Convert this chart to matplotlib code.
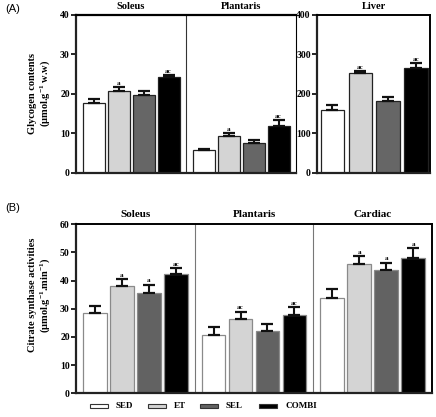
import matplotlib
matplotlib.use("Agg")
import matplotlib.pyplot as plt
from matplotlib.patches import Rectangle
import numpy as np

plt.rcParams['font.family'] = ['Liberation Serif', 'DejaVu Serif']
plt.rcParams['font.weight'] = 'bold'
plt.rcParams['mathtext.fontset'] = 'custom'
plt.rcParams['mathtext.rm'] = 'Liberation Serif:bold'
plt.rcParams['mathtext.it'] = 'Liberation Serif:bold'
plt.rcParams['mathtext.bf'] = 'Liberation Serif:bold'

groups = ["SED", "ET", "SEL", "COMBI"]

# Panel A: glycogen contents
glyc_soleus = [17.7, 20.8, 19.6, 24.3]
glyc_soleus_err = [1.0, 1.0, 1.0, 0.5]
glyc_soleus_lbl = ["", "a", "", "ac"]
glyc_plant = [5.8, 9.3, 7.6, 11.9]
glyc_plant_err = [0.3, 0.7, 0.6, 1.5]
glyc_plant_lbl = ["", "a", "", "ac"]
glyc_liver = [160, 252, 181, 266]
glyc_liver_err = [11, 5, 11, 12]
glyc_liver_lbl = ["", "ac", "", "ac"]

# Panel B: citrate synthase activities
cs_soleus = [28.4, 38.0, 35.5, 42.3]
cs_soleus_err = [2.7, 2.6, 3.0, 2.2]
cs_soleus_lbl = ["", "a", "a", "ac"]
cs_plant = [20.7, 26.5, 22.0, 27.9]
cs_plant_err = [2.7, 2.5, 2.7, 2.7]
cs_plant_lbl = ["", "ac", "", "ac"]
cs_card = [34.0, 45.8, 43.9, 48.1]
cs_card_err = [3.1, 2.8, 2.4, 3.4]
cs_card_lbl = ["", "a", "a", "a"]

colorsA = ["#ffffff", "#d4d4d4", "#666666", "#000000"]
colorsB = ["#ffffff", "#d4d4d4", "#626262", "#000000"]

W = 436; H = 417
fig = plt.figure(figsize=(W/100, H/100), dpi=100)

def ax_px(x0, y0, x1, y1):
    return fig.add_axes([x0/W, 1 - y1/H, (x1-x0)/W, (y1-y0)/H])

SEC = 4.4
MARG = 0.7

def draw_bars(ax, offset, vals, errs, lbls, colors, edge, width, lblfs, lbl_pad):
    x = offset + np.arange(len(vals))
    ax.bar(x, vals, width=width, color=colors, edgecolor=edge, linewidth=0.9, zorder=2)
    ax.errorbar(x, vals, yerr=[np.zeros(len(vals)), errs], fmt='none', ecolor='#111111',
                elinewidth=1.5, capsize=4.2, capthick=1.6, zorder=3)
    for xi, v, e, l in zip(x, vals, errs, lbls):
        if l:
            ax.text(xi, v + e + lbl_pad, l, ha='center', va='bottom', fontsize=lblfs,
                    fontweight='bold')

def style_ax(ax, ticks):
    ax.set_yticks(ticks)
    ax.set_yticklabels([str(t) for t in ticks], fontsize=7, fontweight='bold')
    ax.tick_params(axis='y', direction='out', length=3.5, width=1.2, pad=1)
    ax.set_xticks([])
    for s in ['left', 'bottom']:
        ax.spines[s].set_linewidth(1.6)
        ax.spines[s].set_color('#222222')

# ---------- Panel A left ----------
axA = ax_px(76, 15, 296, 172.7)
draw_bars(axA, MARG, glyc_soleus, glyc_soleus_err, glyc_soleus_lbl, colorsA, '#222222', 0.88, 5, 0.3)
draw_bars(axA, SEC + MARG, glyc_plant, glyc_plant_err, glyc_plant_lbl, colorsA, '#222222', 0.88, 5, 0.3)
axA.set_xlim(0, 2*SEC)
axA.set_ylim(0, 40)
style_ax(axA, [0, 10, 20, 30, 40])
axA.spines['top'].set_linewidth(1.6)
axA.spines['right'].set_linewidth(0.8)
axA.axvline(SEC, color='#333333', linewidth=0.8)
axA.text(SEC/2, 40.9, "Soleus", ha='center', va='bottom', fontsize=7.5, fontweight='bold')
axA.text(SEC*1.5, 40.9, "Plantaris", ha='center', va='bottom', fontsize=7.5, fontweight='bold')

# ---------- Panel A liver ----------
axL = ax_px(317, 15, 430, 172.7)
draw_bars(axL, 0.0, glyc_liver, glyc_liver_err, glyc_liver_lbl, colorsA, '#222222', 0.84, 5, 3)
axL.set_xlim(-0.55, 3.5)
axL.set_ylim(0, 400)
style_ax(axL, [0, 100, 200, 300, 400])
axL.spines['top'].set_linewidth(1.4)
axL.spines['right'].set_linewidth(1.4)
axL.text(1.475, 409, "Liver", ha='center', va='bottom', fontsize=7.5, fontweight='bold')

# ---------- Panel B ----------
axB = ax_px(76, 224.3, 432, 393.3)
draw_bars(axB, MARG, cs_soleus, cs_soleus_err, cs_soleus_lbl, colorsB, '#8a8a8a', 0.87, 5, 0.5)
draw_bars(axB, SEC + MARG, cs_plant, cs_plant_err, cs_plant_lbl, colorsB, '#8a8a8a', 0.87, 5, 0.5)
draw_bars(axB, 2*SEC + MARG, cs_card, cs_card_err, cs_card_lbl, colorsB, '#8a8a8a', 0.87, 5, 0.5)
axB.set_xlim(0, 3*SEC)
axB.set_ylim(0, 60)
style_ax(axB, [0, 10, 20, 30, 40, 50, 60])
axB.spines['top'].set_linewidth(1.4)
axB.spines['right'].set_linewidth(1.4)
axB.axvline(SEC, color='#777777', linewidth=0.8)
axB.axvline(2*SEC, color='#777777', linewidth=0.8)
for i, name in enumerate(["Soleus", "Plantaris", "Cardiac"]):
    axB.text(SEC*(i+0.5), 61.8, name, ha='center', va='bottom', fontsize=8, fontweight='bold')

# ---------- Labels ----------
fig.text(5/W, 1 - 9/H, "(A)", fontsize=8, family='Liberation Sans', fontweight='normal', va='center')
fig.text(5/W, 1 - 208/H, "(B)", fontsize=8, family='Liberation Sans', fontweight='normal', va='center')
fig.text(40/W, 1 - 93/H, "Glycogen contents\n(µmol.g$^{-1}$ w.w)", rotation=90,
         ha='center', va='center', fontsize=7.5, fontweight='bold', linespacing=1.2)
fig.text(40/W, 1 - 295/H, "Citrate synthase activities\n(µmol.g$^{-1}$.min$^{-1}$)", rotation=90,
         ha='center', va='center', fontsize=7.5, fontweight='bold', linespacing=1.2)

# ---------- Legend ----------
legend_x = [90, 148, 200, 259]
ly = 406
for gx, name, c in zip(legend_x, groups, colorsB):
    fig.patches.append(Rectangle((gx/W, 1 - (ly+2)/H), 18/W, 4/H, transform=fig.transFigure,
                                 facecolor=c, edgecolor='#333333', linewidth=0.8))
    fig.text((gx + 26)/W, 1 - ly/H, name, fontsize=6.5, fontweight='bold', va='center', ha='left')

fig.savefig("out.png", dpi=100)
